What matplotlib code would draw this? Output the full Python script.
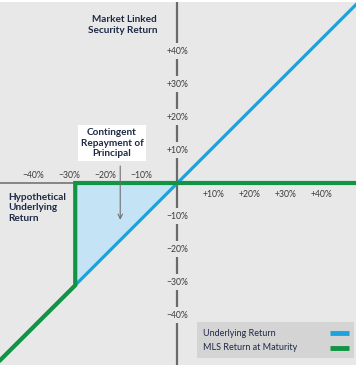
import matplotlib
matplotlib.use("Agg")
import matplotlib.pyplot as plt
from matplotlib.lines import Line2D
from matplotlib.patches import Rectangle

plt.rcParams['font.family'] = ['Lato', 'DejaVu Sans']

# ---- data ----
underlying_x = [-50, 50]
underlying_y = [-54.5, 54.5]
mls_x = [-50, -28.4, -28.4, 50]
mls_y = [-54.5, -31.0, 0, 0]
fill_x = [-28.4, 0]
fill_lower = [-31.0, 0]
fill_upper = [0, 0]
xticks = [-40, -30, -20, -10, 10, 20, 30, 40]
yticks = [40, 30, 20, 10, -10, -20, -30, -40]
legend_labels = ['Underlying Return', 'MLS Return at Maturity']
arrow_x = -15.9
arrow_tip_y = -12

W, H = 358, 368
fig = plt.figure(figsize=(W / 100, H / 100), dpi=100, facecolor='white')
ax = fig.add_axes([0, 3 / H, 356 / W, 363 / H])
bg = '#e8e8e8'
ax.set_facecolor(bg)
ax.set_xlim(-49.3, 49.6)
ax.set_ylim(-55.15, 54.85)
for s in ax.spines.values():
    s.set_visible(False)
ax.set_xticks([])
ax.set_yticks([])

blue = '#1aa3dd'
green = '#119443'
navy = '#1e2a45'
tick_c = '#3a3a3a'

# axes lines
ax.axhline(0, color='#6a6a6a', lw=1.1, zorder=1)
ax.axvline(0, color='#6a6a6a', lw=1.6, zorder=1)

# fill
ax.fill_between(fill_x, fill_lower, fill_upper, color='#c4e4f6', lw=0, zorder=2)

# lines
line_u, = ax.plot(underlying_x, underlying_y, color=blue, lw=2.3, zorder=3,
                  solid_capstyle='butt')
line_m, = ax.plot(mls_x, mls_y, color=green, lw=3.0, zorder=4,
                  solid_capstyle='butt', solid_joinstyle='miter')

# tick labels
fs_tick = 6.2
for v in xticks:
    lab = ('+%d%%' % v) if v > 0 else ('\u2212%d%%' % -v)
    if v < 0:
        ax.text(v, 0.8, lab, ha='center', va='bottom', fontsize=fs_tick,
                color=tick_c, zorder=5)
    else:
        ax.text(v, -2.0, lab, ha='center', va='top', fontsize=fs_tick,
                color=tick_c, zorder=5)
for v in yticks:
    lab = ('+%d%%' % v) if v > 0 else ('\u2212%d%%' % -v)
    ax.text(0, v, lab, ha='center', va='center', fontsize=fs_tick, color=tick_c,
            zorder=5, bbox=dict(boxstyle='square,pad=0.4', fc=bg, ec='none'))

# helpers for pixel placement of annotations
def fx(px):
    return px / W

def fy(py):
    return 1 - py / H

fig.text(fx(157), fy(25), 'Market Linked\nSecurity Return', ha='right',
         va='center', fontsize=7.2, fontweight='bold', color=navy,
         linespacing=1.2)
fig.text(fx(8), fy(208), 'Hypothetical\nUnderlying\nReturn', ha='left',
         va='center', fontsize=7.2, fontweight='bold', color=navy,
         linespacing=1.2)

# annotation box with arrow
ax.annotate('', xy=(arrow_x, arrow_tip_y), xytext=(arrow_x, 6),
            arrowprops=dict(arrowstyle='->', color='#707070', lw=0.8,
                            mutation_scale=8), zorder=5)
fig.text(fx(112), fy(143), 'Contingent\nRepayment of\nPrincipal', ha='center',
         va='center', fontsize=7.2, fontweight='bold', color=navy,
         linespacing=1.2,
         bbox=dict(boxstyle='square,pad=0.3', fc='white', ec='none'),
         zorder=6)

# legend (manual, text left, swatch right)
fig.patches.append(Rectangle((fx(197), fy(358)), fx(354) - fx(197),
                             fy(322) - fy(358), transform=fig.transFigure,
                             fc='#d4d4d4', ec='none', zorder=7))
for i, (lab, ln) in enumerate(zip(legend_labels, [line_u, line_m])):
    yy = 333 + i * 14.5
    fig.text(fx(203), fy(yy), lab, ha='left', va='center', fontsize=6.5,
             color=navy, zorder=8)
    fig.lines.append(Line2D([fx(330), fx(349)], [fy(yy), fy(yy)],
                            transform=fig.transFigure, color=ln.get_color(),
                            lw=3.5, solid_capstyle='butt', zorder=8))

fig.savefig('out.png', dpi=100, facecolor='white')
